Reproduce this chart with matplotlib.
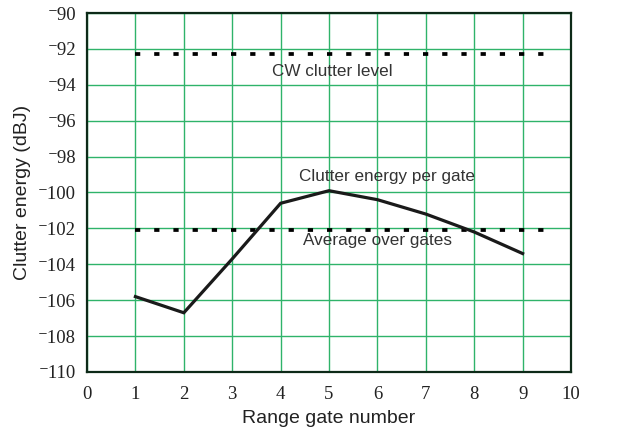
import matplotlib
matplotlib.use("Agg")
import matplotlib.pyplot as plt

# Clutter energy per range gate (dBJ)
gates = [1, 2, 3, 4, 5, 6, 7, 8, 9]
clutter_energy = [-105.8, -106.7, -103.7, -100.6, -99.9, -100.4, -101.2, -102.2, -103.4]

# Reference levels
cw_level = -92.3
avg_level = -102.1
level_span = [1.0, 9.5]

x_ticks = list(range(0, 11))
y_ticks = list(range(-110, -89, 2))
y_tick_labels = ["\u207b" + str(abs(v)) for v in y_ticks]

fig = plt.figure(figsize=(6.22, 4.32), dpi=100)
ax = fig.add_axes([0.1399, 0.1389, 0.7781, 0.8310])

grid_color = "#2fb36a"
ax.set_xlim(0, 10)
ax.set_ylim(-110, -90)
ax.set_xticks(x_ticks)
ax.set_yticks(y_ticks)
ax.grid(True, color=grid_color, linewidth=1.0)
ax.set_axisbelow(True)

for s in ax.spines.values():
    s.set_color("#0d2a18")
    s.set_linewidth(1.6)

serif = ["Liberation Serif", "DejaVu Serif"]
ax.set_xticklabels([str(v) for v in x_ticks], family=serif, fontsize=13.5, color="#222222")
ax.set_yticklabels(y_tick_labels, family=serif, fontsize=13.5, color="#222222")
ax.tick_params(axis="both", length=0)
ax.tick_params(axis="x", pad=10)
ax.tick_params(axis="y", pad=8)

ax.set_xlabel("Range gate number", family="Liberation Sans", fontsize=14, color="#222222", labelpad=5)
ax.set_ylabel("Clutter energy (dBJ)", family="Liberation Sans", fontsize=14, color="#222222", labelpad=5)

# Dotted reference levels
dot_style = dict(color="black", linewidth=2.7, linestyle=(0, (1.4, 3.72)), solid_capstyle="butt", dash_capstyle="butt")
ax.plot(level_span, [cw_level, cw_level], **dot_style)
ax.plot(level_span, [avg_level, avg_level], **dot_style)

# Per-gate clutter energy
ax.plot(gates, clutter_energy, color="#1a1a1a", linewidth=2.3, solid_joinstyle="miter")

txt = dict(family="Liberation Sans", fontsize=12.3, color="#333333", ha="center", va="center")
ax.text(5.06, -93.25, "CW clutter level", **txt)
ax.text(6.2, -99.1, "Clutter energy per gate", **txt)
ax.text(6.0, -102.7, "Average over gates", **txt)

fig.savefig("out.png", dpi=100)
